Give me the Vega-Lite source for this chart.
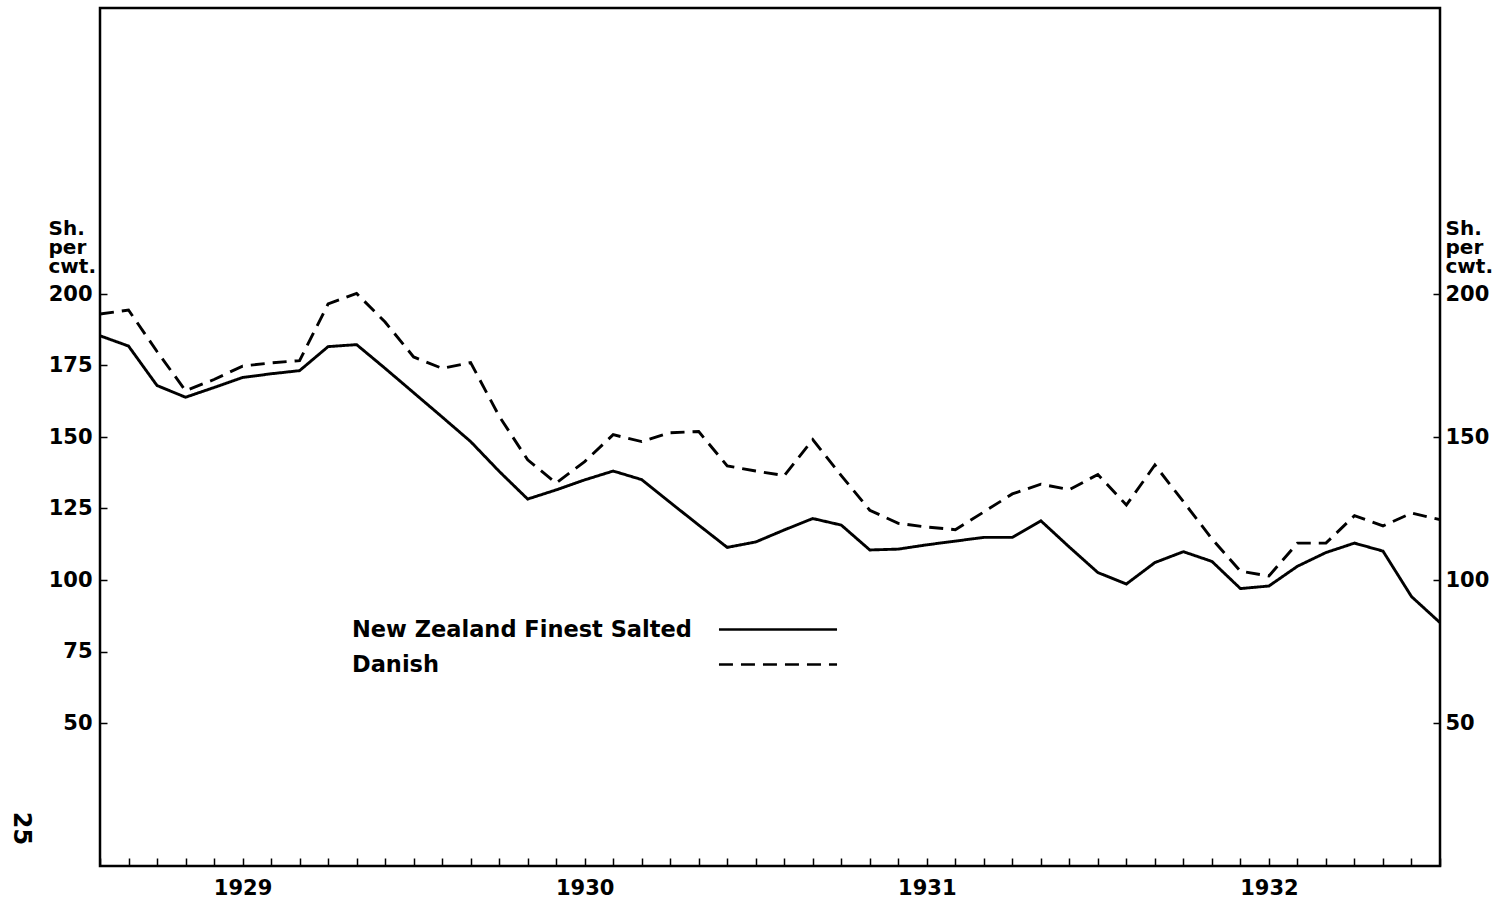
{
  "$schema": "https://vega.github.io/schema/vega-lite/v6.json",
  "width": 1340,
  "height": 858,
  "autosize": {"type": "none"},
  "padding": {"left": 100, "top": 8, "right": 55, "bottom": 33},
  "background": "white",
  "config": {
    "view": {"stroke": "black", "strokeWidth": 2.5},
    "font": "DejaVu Sans",
    "axis": {
      "labelFont": "DejaVu Sans", "labelFontWeight": "bold", "labelColor": "black", "labelFontSize": 21,
      "tickColor": "black", "tickWidth": 1.5, "domain": false, "grid": false,
      "titleFont": "DejaVu Sans", "titleFontWeight": "bold", "titleColor": "black", "titleFontSize": 20
    },
    "line": {"point": false}
  },
  "data": {"values": [
    {"month": "1928-08", "series": "New Zealand Finest Salted", "price": 185.4},
    {"month": "1928-09", "series": "New Zealand Finest Salted", "price": 181.8},
    {"month": "1928-10", "series": "New Zealand Finest Salted", "price": 168.0},
    {"month": "1928-11", "series": "New Zealand Finest Salted", "price": 163.9},
    {"month": "1928-12", "series": "New Zealand Finest Salted", "price": 167.3},
    {"month": "1929-01", "series": "New Zealand Finest Salted", "price": 170.8},
    {"month": "1929-02", "series": "New Zealand Finest Salted", "price": 172.1},
    {"month": "1929-03", "series": "New Zealand Finest Salted", "price": 173.2},
    {"month": "1929-04", "series": "New Zealand Finest Salted", "price": 181.6},
    {"month": "1929-05", "series": "New Zealand Finest Salted", "price": 182.3},
    {"month": "1929-06", "series": "New Zealand Finest Salted", "price": 174.0},
    {"month": "1929-07", "series": "New Zealand Finest Salted", "price": 165.5},
    {"month": "1929-08", "series": "New Zealand Finest Salted", "price": 157.0},
    {"month": "1929-09", "series": "New Zealand Finest Salted", "price": 148.4},
    {"month": "1929-10", "series": "New Zealand Finest Salted", "price": 138.0},
    {"month": "1929-11", "series": "New Zealand Finest Salted", "price": 128.3},
    {"month": "1929-12", "series": "New Zealand Finest Salted", "price": 131.5},
    {"month": "1930-01", "series": "New Zealand Finest Salted", "price": 135.0},
    {"month": "1930-02", "series": "New Zealand Finest Salted", "price": 138.1},
    {"month": "1930-03", "series": "New Zealand Finest Salted", "price": 135.1},
    {"month": "1930-04", "series": "New Zealand Finest Salted", "price": 127.1},
    {"month": "1930-05", "series": "New Zealand Finest Salted", "price": 119.2},
    {"month": "1930-06", "series": "New Zealand Finest Salted", "price": 111.4},
    {"month": "1930-07", "series": "New Zealand Finest Salted", "price": 113.3},
    {"month": "1930-08", "series": "New Zealand Finest Salted", "price": 117.5},
    {"month": "1930-09", "series": "New Zealand Finest Salted", "price": 121.5},
    {"month": "1930-10", "series": "New Zealand Finest Salted", "price": 119.2},
    {"month": "1930-11", "series": "New Zealand Finest Salted", "price": 110.5},
    {"month": "1930-12", "series": "New Zealand Finest Salted", "price": 110.8},
    {"month": "1931-01", "series": "New Zealand Finest Salted", "price": 112.3},
    {"month": "1931-02", "series": "New Zealand Finest Salted", "price": 113.6},
    {"month": "1931-03", "series": "New Zealand Finest Salted", "price": 114.9},
    {"month": "1931-04", "series": "New Zealand Finest Salted", "price": 114.9},
    {"month": "1931-05", "series": "New Zealand Finest Salted", "price": 120.7},
    {"month": "1931-06", "series": "New Zealand Finest Salted", "price": 111.5},
    {"month": "1931-07", "series": "New Zealand Finest Salted", "price": 102.6},
    {"month": "1931-08", "series": "New Zealand Finest Salted", "price": 98.6},
    {"month": "1931-09", "series": "New Zealand Finest Salted", "price": 106.1},
    {"month": "1931-10", "series": "New Zealand Finest Salted", "price": 109.9},
    {"month": "1931-11", "series": "New Zealand Finest Salted", "price": 106.5},
    {"month": "1931-12", "series": "New Zealand Finest Salted", "price": 97.0},
    {"month": "1932-01", "series": "New Zealand Finest Salted", "price": 97.9},
    {"month": "1932-02", "series": "New Zealand Finest Salted", "price": 104.8},
    {"month": "1932-03", "series": "New Zealand Finest Salted", "price": 109.6},
    {"month": "1932-04", "series": "New Zealand Finest Salted", "price": 112.9},
    {"month": "1932-05", "series": "New Zealand Finest Salted", "price": 110.1},
    {"month": "1932-06", "series": "New Zealand Finest Salted", "price": 94.2},
    {"month": "1932-07", "series": "New Zealand Finest Salted", "price": 85.1},
    {"month": "1928-08", "series": "Danish", "price": 193.0},
    {"month": "1928-09", "series": "Danish", "price": 194.4},
    {"month": "1928-10", "series": "Danish", "price": 179.9},
    {"month": "1928-11", "series": "Danish", "price": 166.2},
    {"month": "1928-12", "series": "Danish", "price": 170.1},
    {"month": "1929-01", "series": "Danish", "price": 174.8},
    {"month": "1929-02", "series": "Danish", "price": 175.9},
    {"month": "1929-03", "series": "Danish", "price": 176.7},
    {"month": "1929-04", "series": "Danish", "price": 196.5},
    {"month": "1929-05", "series": "Danish", "price": 200.2},
    {"month": "1929-06", "series": "Danish", "price": 190.2},
    {"month": "1929-07", "series": "Danish", "price": 178.0},
    {"month": "1929-08", "series": "Danish", "price": 174.0},
    {"month": "1929-09", "series": "Danish", "price": 176.0},
    {"month": "1929-10", "series": "Danish", "price": 157.3},
    {"month": "1929-11", "series": "Danish", "price": 142.0},
    {"month": "1929-12", "series": "Danish", "price": 133.9},
    {"month": "1930-01", "series": "Danish", "price": 141.4},
    {"month": "1930-02", "series": "Danish", "price": 150.8},
    {"month": "1930-03", "series": "Danish", "price": 148.4},
    {"month": "1930-04", "series": "Danish", "price": 151.5},
    {"month": "1930-05", "series": "Danish", "price": 151.9},
    {"month": "1930-06", "series": "Danish", "price": 139.9},
    {"month": "1930-07", "series": "Danish", "price": 138.1},
    {"month": "1930-08", "series": "Danish", "price": 136.5},
    {"month": "1930-09", "series": "Danish", "price": 149.1},
    {"month": "1930-10", "series": "Danish", "price": 136.5},
    {"month": "1930-11", "series": "Danish", "price": 124.4},
    {"month": "1930-12", "series": "Danish", "price": 119.8},
    {"month": "1931-01", "series": "Danish", "price": 118.5},
    {"month": "1931-02", "series": "Danish", "price": 117.6},
    {"month": "1931-03", "series": "Danish", "price": 123.8},
    {"month": "1931-04", "series": "Danish", "price": 130.1},
    {"month": "1931-05", "series": "Danish", "price": 133.5},
    {"month": "1931-06", "series": "Danish", "price": 131.6},
    {"month": "1931-07", "series": "Danish", "price": 136.9},
    {"month": "1931-08", "series": "Danish", "price": 126.2},
    {"month": "1931-09", "series": "Danish", "price": 140.2},
    {"month": "1931-10", "series": "Danish", "price": 127.4},
    {"month": "1931-11", "series": "Danish", "price": 114.4},
    {"month": "1931-12", "series": "Danish", "price": 103.1},
    {"month": "1932-01", "series": "Danish", "price": 101.4},
    {"month": "1932-02", "series": "Danish", "price": 112.9},
    {"month": "1932-03", "series": "Danish", "price": 112.9},
    {"month": "1932-04", "series": "Danish", "price": 122.5},
    {"month": "1932-05", "series": "Danish", "price": 118.9},
    {"month": "1932-06", "series": "Danish", "price": 123.4},
    {"month": "1932-07", "series": "Danish", "price": 121.1}
  ]},
  "layer": [
    {
      "mark": {"type": "line", "color": "black", "strokeWidth": 2.9},
      "encoding": {
        "x": {
          "field": "month", "type": "ordinal",
          "scale": {"type": "point", "padding": 0},
          "axis": {
            "orient": "bottom", "tickSize": -8, "labelPadding": 19, "labelAngle": 0,
            "labelOverlap": false,
            "labelExpr": "slice(datum.value, 5) == '01' ? slice(datum.value, 0, 4) : ''",
            "title": "25", "titleAngle": 90, "titleAlign": "center", "titleBaseline": "middle",
            "titleX": -80, "titleY": -38, "titleFontSize": 24
          }
        },
        "y": {
          "field": "price", "type": "quantitative",
          "scale": {"domain": [0, 300], "nice": false, "zero": false},
          "axis": {
            "orient": "left", "values": [50, 75, 100, 125, 150, 175, 200],
            "tickSize": -7, "labelPadding": 15,
            "title": ["Sh.", "per", "cwt."], "titleAngle": 0, "titleAlign": "left",
            "titleBaseline": "alphabetic", "titleX": -52, "titleY": 226, "titleLineHeight": 19
          }
        },
        "strokeDash": {
          "field": "series", "type": "nominal",
          "scale": {"domain": ["New Zealand Finest Salted", "Danish"], "range": [[1, 0], [14, 8]]},
          "legend": {
            "orient": "none", "legendX": 252, "legendY": 608, "title": null, "direction": "vertical",
            "symbolType": "M-4.92,0H4.92", "symbolSize": 576, "symbolStrokeWidth": 2.5, "symbolStrokeColor": "black",
            "labelFontSize": 22.5, "labelFont": "DejaVu Sans", "labelFontWeight": "bold", "labelColor": "black",
            "labelOffset": -439.5, "symbolOffset": 412.5, "rowPadding": 10, "padding": 0, "labelLimit": 0
          }
        }
      }
    },
    {
      "mark": {"type": "point", "opacity": 0},
      "encoding": {
        "x": {"field": "month", "type": "ordinal", "scale": {"type": "point", "padding": 0}},
        "y": {
          "field": "price", "type": "quantitative",
          "scale": {"domain": [0, 300], "nice": false, "zero": false},
          "axis": {
            "orient": "right", "values": [50, 100, 150, 200],
            "tickSize": -7, "labelPadding": 12,
            "title": ["Sh.", "per", "cwt."], "titleAngle": 0, "titleAlign": "left",
            "titleBaseline": "alphabetic", "titleX": 5, "titleY": 226, "titleLineHeight": 19
          }
        }
      }
    }
  ],
  "resolve": {"axis": {"y": "independent"}}
}
